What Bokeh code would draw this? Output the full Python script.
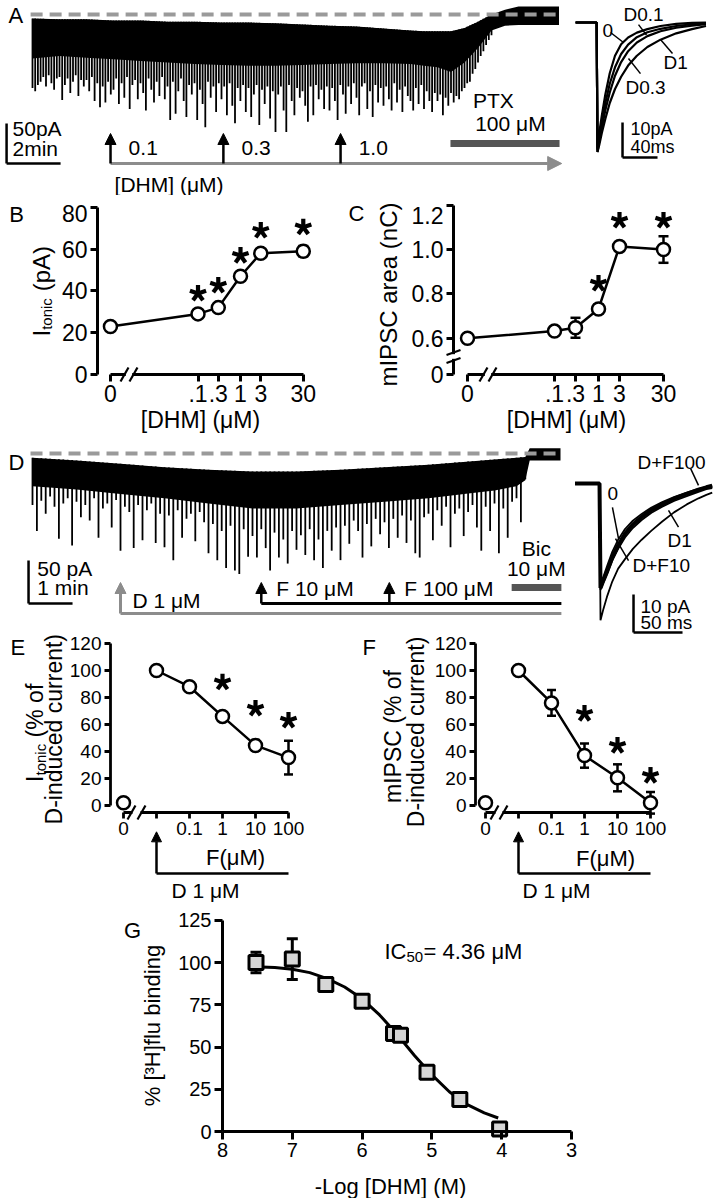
import numpy as np
from bokeh.plotting import figure
from bokeh.layouts import row, column
from bokeh.models import (Range1d, LinearAxis, FixedTicker, Arrow, NormalHead,
                          Whisker, TeeHead, ColumnDataSource)
from bokeh.core.properties import value
from bokeh.embed import file_html
from bokeh.resources import INLINE

FONT = "Liberation Sans"
NB = "\u00a0"

# ---------------- DATA ----------------
# Panel A: whole-cell trace (time in min, current in pA relative to PTX level)
A_KNOT_T = [0, 1, 2, 3, 4, 5, 6, 7, 8, 9, 10, 11, 12, 13, 14, 14.5, 15, 15.5, 16, 16.5, 17, 17.5, 18, 18.5, 19, 19.5]
A_TOP = [-5, -6, -6, -7.5, -7.5, -9, -9, -10, -10, -11, -12.5, -14, -15, -17.5, -20, -21, -21, -21, -17, -9, 0, 6, 10, 10, 10, 10]
A_CORE = [-55, -52, -54, -56, -58, -60, -62, -63, -64, -64, -63, -62, -61, -61, -62, -64, -66, -72, -60, -42, -20, -14, -13, -13, -13, -13]
A_EVENT_DT = 0.1
A_EVENT_PEAK = [
    -92, -96, -88, -84, -78, -90, -76, -86, -94, -80,
    -78, -107, -88, -80, -98, -84, -76, -102, -82, -90,
    -82, -96, -78, -108, -86, -116, -90, -110, -84, -100,
    -94, -80, -112, -86, -104, -78, -118, -88, -82, -106,
    -86, -98, -120, -80, -94, -110, -84, -102, -78, -106,
    -90, -132, -84, -124, -96, -80, -108, -128, -88, -100,
    -86, -132, -94, -112, -141, -84, -104, -90, -122, -86,
    -106, -90, -126, -86, -114, -136, -92, -108, -88, -122,
    -92, -128, -100, -88, -138, -94, -112, -90, -130, -96,
    -147, -100, -90, -120, -147, -88, -108, -126, -92, -104,
    -96, -114, -134, -90, -126, -88, -106, -94, -118, -90,
    -120, -92, -108, -132, -88, -100, -124, -90, -112, -86,
    -104, -126, -90, -86, -118, -96, -128, -88, -110, -92,
    -114, -90, -106, -120, -86, -110, -94, -122, -90, -102,
    -108, -120, -92, -112, -88, -118, -96, -108, -122, -98,
    -108, -100, -126, -104, -114, -98, -110, -102, -106, -96,
    -92, -86, -84, -74, -68, -60, -52, -46, -38, -32,
    -26]
A_DHM_T = [2.89, 7.07, 11.41]
A_DHM_LABELS = ["0.1", "0.3", "1.0"]
A_DHM_END = 19.6
A_PTX = (15.48, 19.52)

# Panel A inset: averaged mIPSCs (ms, pA)
A2_T = [-25, -1, 0, 2, 5, 9, 14, 20, 27, 35, 45, 57, 72, 90, 108, 124]
A2_TRACES = {
    "0":    [0, 0, -36, -31.5, -26.5, -20.5, -14.5, -9.5, -6.2, -4.3, -2.9, -1.9, -1.0, -0.4, -0.1, 0],
    "D0.1": [0, 0, -36.5, -33, -28.5, -23, -17.5, -12.8, -9, -6.3, -4.2, -2.8, -1.8, -1.0, -0.5, -0.2],
    "D0.3": [0, 0, -37, -34, -30, -25, -20, -15.2, -11.3, -8.2, -5.7, -3.9, -2.5, -1.5, -0.9, -0.5],
    "D1":   [0, 0, -37, -35, -31.5, -27.5, -23, -19, -15.5, -12.3, -9.5, -7, -4.9, -3.1, -1.9, -1.0],
}

# Panels B / C
BC_CONC_LABELS = ["0", ".1", ".3", "1", "3", "30"]
BC_LOGX = [-3.06, -1.0, -0.5229, 0.0, 0.4771, 1.4771]   # 0 drawn on broken axis
B_ITONIC = [23, 29, 32, 47, 58, 59]
B_ERR = [1, 1, 1, 1.5, 1.5, 2.5]
B_SIG = [False, True, True, True, True, True]
B_STAR_Y = [0, 38.8, 42.6, 56.9, 68.9, 70.5]
B_YTICKS = [0, 20, 40, 60, 80]
C_LOGX = [-2.977, -1.0, -0.5229, 0.0, 0.4771, 1.4771]
C_AREA = [0.600, 0.632, 0.647, 0.732, 1.014, 1.000]
C_ERR = [0.01, 0.01, 0.045, 0.02, 0.02, 0.06]
C_SIG = [False, False, False, True, True, True]
C_STAR_Y = [0, 0, 0, 0.8467, 1.131, 1.131]
C_ZERO_POS = 0.4363
C_YTICKS = [C_ZERO_POS, 0.6, 0.8, 1.0, 1.2]

# Panel D: trace (min, pA relative to Bic level)
D_KNOT_T = [0, 1, 2, 3, 4, 5, 6, 7, 8, 9, 10, 10.5, 11, 11.2, 11.3, 11.5, 12]
D_TOP = [-5, -8, -12, -16, -19, -21, -21, -19, -16, -13, -9, -7, -5, -4, 6, 6, 6]
D_CORE = [-38, -42, -47, -52, -58, -64, -64, -60, -56, -52, -46, -43, -38, -31, -8, -8, -8]
D_EVENT_DT = 0.1
D_EVENT_PEAK = [
    -60, -90, -55, -70, -50, -62, -99, -58, -52, -107,
    -56, -74, -60, -78, -52, -98, -64, -58, -86, -54,
    -113, -62, -68, -110, -60, -101, -66, -58, -104, -70,
    -109, -72, -124, -66, -98, -76, -70, -102, -68, -80,
    -116, -82, -124, -90, -133, -84, -136, -140, -88, -120,
    -96, -121, -88, -110, -136, -92, -121, -100, -128, -90,
    -112, -95, -118, -88, -124, -100, -133, -90, -113, -86,
    -124, -84, -105, -78, -90, -121, -82, -108, -76, -94,
    -80, -110, -76, -98, -72, -104, -78, -116, -121, -74,
    -70, -101, -66, -84, -62, -109, -70, -64, -96, -68,
    -60, -86, -113, -62, -90, -58, -116, -64, -98, -56,
    -52, -80, -30]
D_D1_T = 2.0
D_F_T = [5.2, 8.11]
D_END = 12.02
D_BIC = (10.89, 12.02)

# Panel D inset: averaged mIPSCs
D2_T = [-26, -1, 0, 3, 7, 12, 18, 25, 33, 42, 52, 63, 75, 88, 100, 108, 114]
D2_TRACES = {
    "0":      [0, 0, -27, -24.5, -21.5, -18, -14.8, -12, -9.8, -8, -6.3, -4.9, -3.6, -2.4, -1.4, -0.9, -0.6],
    "D+F10":  [0, 0, -28, -26, -23.5, -20.3, -17.2, -14.2, -11.7, -9.6, -7.7, -6.1, -4.6, -3.3, -2.2, -1.5, -1.2],
    "D1":     [0, 0, -36, -33, -29.5, -25.8, -22.4, -19.9, -17.2, -14.8, -12.4, -10, -7.6, -5.5, -3.9, -3.0, -2.4],
    "D+F100": [0, 0, -27.5, -25.5, -23, -19.5, -16.3, -13.2, -10.8, -8.8, -7.0, -5.5, -4.0, -2.7, -1.6, -1.0, -0.6],
}

# Panels E / F (F concentration as log10 uM; -2 = D alone, -3 = no drug)
EF_LOGX = [-3, -2, -1, 0, 1, 2]
EF_TICK_LABELS = ["0", "", "0.1", "1", "10", "100"]
E_VAL = [2, 100, 88, 66, 44.5, 35.5]
E_ERR = [0, 3, 1, 1.5, 4, 12.5]
E_STAR_Y = [0, 0, 0, 91.3, 71.9, 63.0]
F_VAL = [2, 100, 76, 37, 20.5, 2]
F_ERR = [0, 2, 9.5, 9, 10, 8]
F_STAR_Y = [0, 0, 0, 68.1, 44.4, 22.2]
EF_SIG = [False, False, False, True, True, True]

# Panel G: binding
G_X = [7.52, 7.0, 6.52, 6.0, 5.55, 5.45, 5.07, 4.6, 4.03]
G_Y = [100, 102, 87, 77, 58, 57, 35, 19, 1.5]
G_ERR = [6, 12, 3.5, 2.5, 2, 2, 2, 2, 2]
G_FIT_X = [7.55, 7.25, 7.0, 6.75, 6.5, 6.25, 6.0, 5.75, 5.5, 5.25, 5.0, 4.75, 4.5, 4.25, 4.05]
G_FIT_Y = [97.5, 97, 96, 94, 90.5, 85.5, 78.5, 69, 57.5, 45, 33.5, 23.5, 16, 11, 8]

GRAY = "#8c8c8c"
DASH_GRAY = "#9a9a9a"
BAR_GRAY = "#555555"


# ---------------- HELPERS ----------------
def mkfig(left, top, w, h, xo, xs, yo, ys):
    """Figure occupying page box (left, top, w, h); page_x = xo + xs*x, page_y = yo - ys*y."""
    xr = Range1d((left - xo) / xs, (left + w - xo) / xs)
    yr = Range1d((yo - (top + h)) / ys, (yo - top) / ys)
    p = figure(width=w, height=h, x_range=xr, y_range=yr,
               output_backend="svg", toolbar_location=None,
               x_axis_type=None, y_axis_type=None, min_border=0)
    p.min_border_left = 0
    p.min_border_right = 0
    p.min_border_top = 0
    p.min_border_bottom = 0
    p.outline_line_color = None
    p.background_fill_color = "white"
    p.border_fill_color = "white"
    return p


def axis(p, side, loc, bounds, ticks, labels, fs, tick_out=7, lw=3, standoff=3):
    ax = LinearAxis(fixed_location=loc, bounds=bounds,
                    ticker=FixedTicker(ticks=ticks, minor_ticks=[]),
                    major_label_overrides={t: l for t, l in zip(ticks, labels)},
                    axis_line_width=lw, major_tick_line_width=lw,
                    major_tick_out=tick_out, major_tick_in=0,
                    minor_tick_line_color=None, major_label_standoff=standoff,
                    major_label_text_font=FONT, major_label_text_font_size=f"{fs}px",
                    major_label_text_color="black", axis_line_color="black",
                    major_tick_line_color="black")
    p.add_layout(ax, side)


def txt(p, x, y, s, fs, align="left", baseline="middle", angle=0.0, bold=False, color="black"):
    p.text(x=[x], y=[y], text=[s], text_font=value(FONT), text_font_size=value(f"{fs}px"),
           text_align=align, text_baseline=baseline, angle=angle,
           text_font_style="bold" if bold else "normal", text_color=color)


def arrow(p, x0, y0, x1, y1, color="black", size=11, lw=2.5):
    p.add_layout(Arrow(x_start=x0, y_start=y0, x_end=x1, y_end=y1, line_color=color, line_width=lw,
                       end=NormalHead(size=size, fill_color=color, line_color=color, line_width=1)))


def seg(p, x0, y0, x1, y1, lw=2.5, color="black", dash="solid", level="glyph"):
    p.segment(x0=[x0], y0=[y0], x1=[x1], y1=[y1], line_width=lw, line_color=color,
              line_dash=dash, level=level)


def stars(p, xs, centers, sig, arm=8.5, lw=4.2):
    """Five-armed asterisks centred on (x, centre)."""
    xx = [x for x, s in zip(xs, sig) if s]
    yy = [c for c, s in zip(centers, sig) if s]
    for a in [90, 18, 162, -54, 234]:
        p.ray(x=xx, y=yy, length=arm, angle=np.deg2rad(a), length_units="screen",
              line_width=lw, line_color="black")


def errbars(p, xs, ys, errs, head=10, lw=2.5):
    keep = [i for i, e in enumerate(errs) if e > 0]
    src = ColumnDataSource(dict(base=[xs[i] for i in keep],
                                upper=[ys[i] + errs[i] for i in keep],
                                lower=[ys[i] - errs[i] for i in keep]))
    p.add_layout(Whisker(source=src, base="base", upper="upper", lower="lower",
                         line_width=lw, line_color="black",
                         upper_head=TeeHead(size=head, line_width=lw, line_color="black"),
                         lower_head=TeeHead(size=head, line_width=lw, line_color="black")))


def xbreak(p, xs, y, hx, hy, gx, gy):
    p.quad(left=[min(xs) + gx], right=[max(xs) - gx], bottom=[y - gy], top=[y + gy],
           fill_color="white", line_color=None, level="overlay")
    for x in xs:
        seg(p, x - hx, y - hy, x + hx, y + hy, lw=2.2, level="overlay")


# ---------------- PANEL A ----------------
pA = mkfig(0, 0, 565, 195, 32, 27, 14, 0.8)
pA.varea(x=A_KNOT_T, y1=A_TOP, y2=A_CORE, fill_color="black")
tA = np.arange(len(A_EVENT_PEAK)) * A_EVENT_DT
pA.segment(x0=tA, y0=np.interp(tA, A_KNOT_T, A_TOP), x1=tA, y1=A_EVENT_PEAK,
           line_width=1.8, line_color="black")
seg(pA, -0.07, 0, 19.6, 0, lw=4, color=DASH_GRAY, dash="12 7")
txt(pA, -0.889, -1.5, "A", 22)
# scale bar 50 pA / 2 min
seg(pA, -0.96, -186.25, -0.96, -136.25)
seg(pA, -0.96, -186.25, 1.04, -186.25)
txt(pA, -0.74, -142.5, "50pA", 21)
txt(pA, -0.74, -167.5, "2min", 21)
# DHM applications
arrow(pA, A_DHM_T[0], -186.25, A_DHM_END, -186.25, color=GRAY, size=14, lw=3)
for t, lab in zip(A_DHM_T, A_DHM_LABELS):
    arrow(pA, t, -186.25, t, -148.75, size=11)
    txt(pA, t + 0.67, -166.25, lab, 21)
txt(pA, 3.04, -213.0, "[DHM] (\u03bcM)", 21)
seg(pA, A_PTX[0], -161.25, A_PTX[1], -161.25, lw=7, color=BAR_GRAY)
txt(pA, 17.07, -107.5, "PTX", 21, align="center")
txt(pA, 17.7, -136.25, "100 \u03bcM", 21, align="center")

# ---------------- PANEL A inset ----------------
pA2 = mkfig(565, 0, 149, 195, 597, 0.875, 22, 3.5)
for k, v in A2_TRACES.items():
    pA2.line(A2_T, v, line_width=2.2, line_color="black")
for lab, (x, y) in {"D0.1": (29.7, 2.3), "0": (5.7, -2.29), "D1": (75.4, -11.4), "D0.3": (32, -18.6)}.items():
    txt(pA2, x, y, lab, 19)
seg(pA2, 14.9, -2.86, 29.7, -5.71, lw=1.5)
seg(pA2, 46.9, -0.6, 56, -3.6, lw=1.5)
seg(pA2, 72, -4.86, 85.7, -8.86, lw=1.5)
seg(pA2, 35.4, -10.3, 49.1, -14.6, lw=1.5)
seg(pA2, 28.6, -38.57, 28.6, -28.57)
seg(pA2, 28.6, -38.57, 68.6, -38.57)
txt(pA2, 37.7, -30.3, "10pA", 18)
txt(pA2, 37.7, -35.7, "40ms", 18)

# ---------------- PANEL B ----------------
pB = mkfig(0, 195, 345, 245, 240, 42.5, 374, 2.09)
axis(pB, "left", -3.365, (0, 80), B_YTICKS, ["0", "20", "40", "60", ""], 23)
txt(pB, -3.6, 77.0, "80", 23, align="right")
axis(pB, "below", 0, (BC_LOGX[0], BC_LOGX[-1]), BC_LOGX, BC_CONC_LABELS, 23)
xbreak(pB, [-2.729, -2.518], 0, 0.094, 3.35, 0.03, 1.9)
errbars(pB, BC_LOGX, B_ITONIC, B_ERR)
pB.line(BC_LOGX, B_ITONIC, line_width=2.5, line_color="black")
pB.scatter(BC_LOGX, B_ITONIC, marker="circle", size=13, fill_color="white", line_color="black", line_width=2.5)
stars(pB, BC_LOGX, B_STAR_Y, B_SIG)
txt(pB, -5.44, 76.5, "B", 22)
txt(pB, -4.692, 18.18, "I", 24, baseline="alphabetic", angle=np.pi / 2)
txt(pB, -4.574, 21.38, "tonic", 15, baseline="alphabetic", angle=np.pi / 2)
txt(pB, -4.692, 36.6, NB + "(pA)", 24, baseline="alphabetic", angle=np.pi / 2)
txt(pB, -0.941, -22.0, "[DHM] (\u03bcM)", 23, align="center")

# ---------------- PANEL C ----------------
pC = mkfig(345, 195, 369, 245, 598, 44, 470.75, 221.75)
axis(pC, "left", -3.295, (C_ZERO_POS, 1.2), C_YTICKS, ["0", "0.6", "0.8", "1.0", ""], 23)
txt(pC, -3.523, 1.1533, "1.2", 23, align="right")
axis(pC, "below", C_ZERO_POS, (C_LOGX[0], C_LOGX[-1]), C_LOGX, BC_CONC_LABELS, 23)
xbreak(pC, [-2.614, -2.409], C_ZERO_POS, 0.0909, 0.0316, 0.03, 0.009)
pC.quad(left=[-3.36], right=[-3.23], bottom=[0.507], top=[0.528], fill_color="white",
        line_color=None, level="overlay")
seg(pC, -3.454, 0.4994 - 0.011, -3.136, 0.4994 + 0.011, lw=2.2, level="overlay")
seg(pC, -3.454, 0.5355 - 0.011, -3.136, 0.5355 + 0.011, lw=2.2, level="overlay")
errbars(pC, C_LOGX, C_AREA, C_ERR)
pC.line(C_LOGX, C_AREA, line_width=2.5, line_color="black")
pC.scatter(C_LOGX, C_AREA, marker="circle", size=13, fill_color="white", line_color="black", line_width=2.5)
stars(pC, C_LOGX, C_STAR_Y, C_SIG)
txt(pC, -5.68, 1.162, "C", 22)
txt(pC, -4.773, 0.797, "mIPSC area (nC)", 24, align="center", angle=np.pi / 2)
txt(pC, -0.727, 0.2289, "[DHM] (\u03bcM)", 23, align="center")

# ---------------- PANEL D ----------------
pD = mkfig(0, 440, 565, 194, 32, 44, 453, 0.86)
pD.varea(x=D_KNOT_T, y1=D_TOP, y2=D_CORE, fill_color="black")
tD = np.arange(len(D_EVENT_PEAK)) * D_EVENT_DT
pD.segment(x0=tD, y0=np.interp(tD, D_KNOT_T, D_TOP), x1=tD, y1=D_EVENT_PEAK,
           line_width=1.8, line_color="black")
seg(pD, -0.045, 0, 11.93, 0, lw=4, color=DASH_GRAY, dash="12 7")
txt(pD, -0.545, -10.5, "D", 22)
seg(pD, -0.09, -174.4, -0.09, -124.4)
seg(pD, -0.09, -174.4, 0.91, -174.4)
txt(pD, 0.11, -133.7, "50 pA", 21)
txt(pD, 0.11, -155.8, "1 min", 21)
seg(pD, D_D1_T, -186, D_END, -186, lw=3, color=GRAY)
arrow(pD, D_D1_T, -186, D_D1_T, -150, color=GRAY, size=11, lw=3)
txt(pD, 2.27, -171, "D 1 \u03bcM", 21)
seg(pD, D_F_T[0], -174.4, D_END, -174.4, lw=3)
for t, lab in zip(D_F_T, ["F 10 \u03bcM", "F 100 \u03bcM"]):
    arrow(pD, t, -174.4, t, -150, size=11)
    txt(pD, t + 0.34, -157, lab, 21)
seg(pD, D_BIC[0], -155.8, D_BIC[1], -155.8, lw=7, color=BAR_GRAY)
txt(pD, 11.45, -110.5, "Bic", 21, align="center")
txt(pD, 11.45, -133.7, "10 \u03bcM", 21, align="center")

# ---------------- PANEL D inset ----------------
pD2 = mkfig(565, 440, 149, 194, 600, 0.98, 483, 3.8)
for k in ["0", "D+F10", "D1"]:
    pD2.line(D2_T, D2_TRACES[k], line_width=1.8, line_color="black")
pD2.line(D2_T, D2_TRACES["D+F100"], line_width=4, line_color="black")
txt(pD2, 37.8, 5.5, "D+F100", 19)
seg(pD2, 92, 3.9, 100, -0.5, lw=1.5)
txt(pD2, 7.1, -2.6, "0", 19)
seg(pD2, 12.2, -6.3, 18.4, -14.5, lw=1.5)
txt(pD2, 68.4, -15, "D1", 19)
seg(pD2, 69.4, -7.1, 79.6, -11.5, lw=1.5)
txt(pD2, 32.7, -21.6, "D+F10", 19)
seg(pD2, 15.3, -14.5, 28.6, -20.3, lw=1.5)
seg(pD2, 33.7, -39.2, 33.7, -29.2)
seg(pD2, 33.7, -39.2, 83.7, -39.2)
txt(pD2, 40.8, -32.4, "10 pA", 19)
txt(pD2, 40.8, -36.6, "50 ms", 19)


# ---------------- PANELS E / F ----------------
def ef_panel(left, w, xo, yaxis_x, vals, errs, star_c, letter, letter_x):
    p = mkfig(left, 634, w, 271, xo, 33, 805, 1.35)
    axis(p, "left", yaxis_x, (0, 120), [0, 20, 40, 60, 80, 100, 120],
         ["0", "20", "40", "60", "80", "100", "120"], 19, tick_out=6, lw=2.8)
    axis(p, "below", -5.19, (-3, 2), EF_LOGX, EF_TICK_LABELS, 19, tick_out=6, lw=2.8)
    errbars(p, EF_LOGX, vals, errs, head=9)
    p.line(EF_LOGX[1:], vals[1:], line_width=2.5, line_color="black")
    p.scatter(EF_LOGX, vals, marker="circle", size=13, fill_color="white", line_color="black",
              line_width=2.5, level="overlay")
    stars(p, EF_LOGX, star_c, EF_SIG)
    seg(p, -2, -50.4, 2, -50.4, lw=2.5)
    arrow(p, -2, -50.4, -2, -19.5, size=10)
    txt(p, letter_x, 117, letter, 22)
    return p


pE = ef_panel(0, 360, 222, -3.394, E_VAL, E_ERR, E_STAR_Y, "E", -6.424)
xbreak(pE, [-2.758, -2.455], -5.19, 0.121, 5.19, 0.03, 1.5)
txt(pE, -5.667, 17.5, "I", 23, baseline="alphabetic", angle=np.pi / 2)
txt(pE, -5.515, 22.2, "tonic", 15, baseline="alphabetic", angle=np.pi / 2)
txt(pE, -5.667, 45.7, NB + "(% of", 23, baseline="alphabetic", angle=np.pi / 2)
txt(pE, -5.121, 56.5, "D-induced current)", 23, align="center", angle=np.pi / 2)
txt(pE, 0.394, -38.5, "F(\u03bcM)", 22, align="center")
txt(pE, -0.515, -63, "D 1 \u03bcM", 21, align="center")

pF = ef_panel(360, 354, 584, -3.303, F_VAL, F_ERR, F_STAR_Y, "F", -6.727)
xbreak(pF, [-2.727, -2.455], -5.19, 0.121, 5.19, 0.03, 1.5)
txt(pF, -5.818, 51.1, "mIPSC (% of", 23, align="center", angle=np.pi / 2)
txt(pF, -5.121, 54.5, "D-induced current)", 23, align="center", angle=np.pi / 2)
txt(pF, 0.636, -39.3, "F(\u03bcM)", 22, align="center")
txt(pF, -0.848, -63, "D 1 \u03bcM", 21, align="center")

# ---------------- PANEL G ----------------
pG = mkfig(0, 905, 714, 293, 780.4, -69.8, 1131, 1.69)
axis(pG, "left", 8, (0, 125), [0, 25, 50, 75, 100, 125], ["0", "25", "50", "75", "100", "125"], 20, tick_out=8)
axis(pG, "below", 0, (3, 8), [3, 4, 5, 6, 7, 8], ["3", "4", "5", "6", "7", "8"], 20, tick_out=8)
pG.line(G_FIT_X, G_FIT_Y, line_width=3, line_color="black")
errbars(pG, G_X, G_Y, G_ERR, head=11, lw=3)
pG.scatter(G_X, G_Y, marker="square", size=14, fill_color="#d6d6d6", line_color="black", line_width=3)
txt(pG, 9.289, 118.9, "G", 22, align="center")
txt(pG, 5.679, 106.5, "IC", 22)
txt(pG, 5.364, 103.0, "50", 15)
txt(pG, 5.12, 106.5, "= 4.36 \u03bcM", 22)
txt(pG, 9.003, 62.7, "% [\u00b3H]flu binding", 22, align="center", angle=np.pi / 2)
txt(pG, 5.593, -32.5, "-Log [DHM] (M)", 22, align="center")

layout = column(row(pA, pA2), row(pB, pC), row(pD, pD2), row(pE, pF), pG)
open("out.html", "w").write(file_html(layout, INLINE, title="DHM figure"))
